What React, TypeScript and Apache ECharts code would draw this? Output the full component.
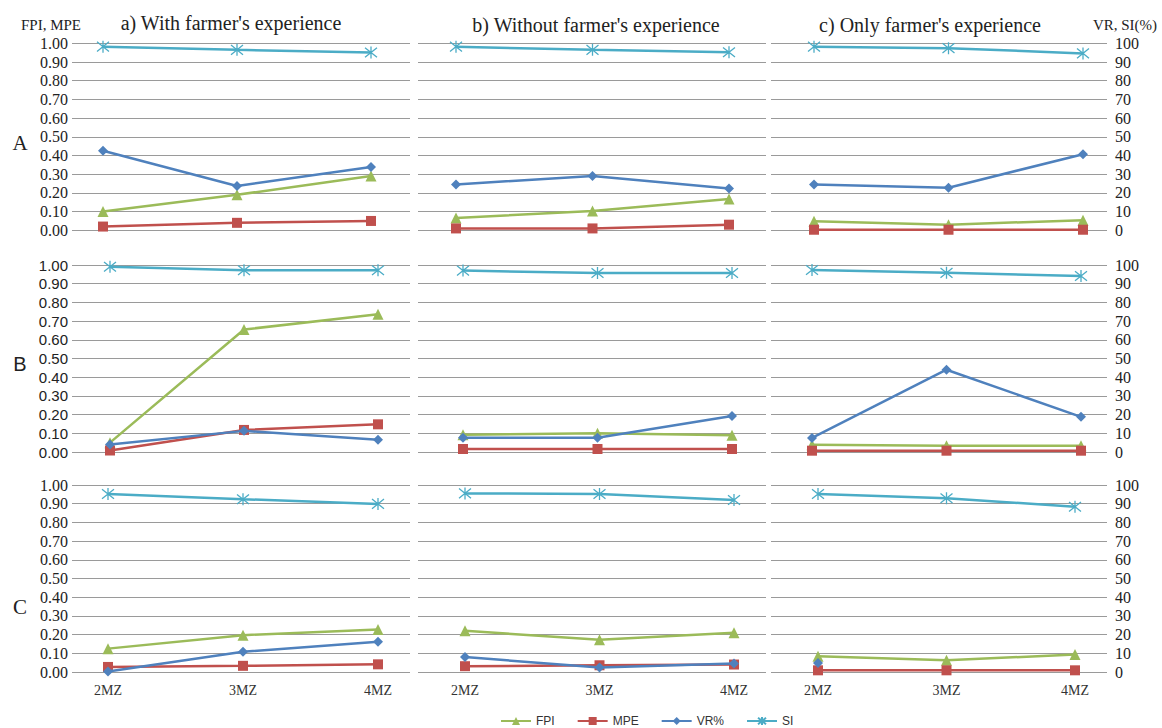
import React, { useEffect, useRef } from 'react';
import * as echarts from 'echarts';

const categories = ['2MZ', '3MZ', '4MZ'];
const seriesNames = ['FPI', 'MPE', 'VR%', 'SI'];
const panelTitles = ["a) With farmer's experience", "b) Without farmer's experience", "c) Only farmer's experience"];
const rowLabels = ['A', 'B', 'C'];

// Row A
const A_a_FPI = [0.10, 0.19, 0.29];
const A_a_MPE = [0.02, 0.04, 0.05];
const A_a_VR = [42.5, 23.7, 33.9];
const A_a_SI = [98.2, 96.5, 95.1];
const A_b_FPI = [0.066, 0.103, 0.168];
const A_b_MPE = [0.01, 0.01, 0.03];
const A_b_VR = [24.5, 29.1, 22.4];
const A_b_SI = [98.2, 96.5, 95.2];
const A_c_FPI = [0.048, 0.03, 0.054];
const A_c_MPE = [0.003, 0.003, 0.003];
const A_c_VR = [24.5, 22.8, 40.7];
const A_c_SI = [98.2, 97.4, 94.6];
// Row B
const B_a_FPI = [0.05, 0.655, 0.737];
const B_a_MPE = [0.008, 0.118, 0.148];
const B_a_VR = [4.0, 11.3, 6.5];
const B_a_SI = [99.1, 97.2, 97.2];
const B_b_FPI = [0.092, 0.10, 0.09];
const B_b_MPE = [0.016, 0.016, 0.016];
const B_b_VR = [7.6, 7.6, 19.2];
const B_b_SI = [97.0, 95.7, 95.7];
const B_c_FPI = [0.039, 0.034, 0.034];
const B_c_MPE = [0.007, 0.007, 0.007];
const B_c_VR = [7.5, 44.0, 18.8];
const B_c_SI = [97.3, 95.8, 94.1];
// Row C
const C_a_FPI = [0.125, 0.197, 0.227];
const C_a_MPE = [0.027, 0.033, 0.041];
const C_a_VR = [0.3, 10.8, 16.2];
const C_a_SI = [95.2, 92.4, 89.9];
const C_b_FPI = [0.22, 0.173, 0.21];
const C_b_MPE = [0.031, 0.036, 0.04];
const C_b_VR = [8.0, 2.4, 4.5];
const C_b_SI = [95.5, 95.2, 92.0];
const C_c_FPI = [0.084, 0.063, 0.093];
const C_c_MPE = [0.009, 0.009, 0.009];
const C_c_VR = [4.8, null, null];
const C_c_SI = [95.2, 92.9, 88.4];

const leftTicks = { min: 0, max: 1, interval: 0.1 };
const rightTicks = { min: 0, max: 100, interval: 10 };

const panels = [
  [[A_a_FPI, A_a_MPE, A_a_VR, A_a_SI], [A_b_FPI, A_b_MPE, A_b_VR, A_b_SI], [A_c_FPI, A_c_MPE, A_c_VR, A_c_SI]],
  [[B_a_FPI, B_a_MPE, B_a_VR, B_a_SI], [B_b_FPI, B_b_MPE, B_b_VR, B_b_SI], [B_c_FPI, B_c_MPE, B_c_VR, B_c_SI]],
  [[C_a_FPI, C_a_MPE, C_a_VR, C_a_SI], [C_b_FPI, C_b_MPE, C_b_VR, C_b_SI], [C_c_FPI, C_c_MPE, C_c_VR, C_c_SI]],
];

// layout (pixels)
const rowTops = [43.3, 265, 485];
const gridH = 187;
const cols = [
  { left: 72, width: 338 },
  { left: 418, width: 348 },
  { left: 771, width: 336 },
];
const pointPx = [
  [[103, 371], [456, 729], [814, 1083]],
  [[110, 378], [463, 732], [812, 1081]],
  [[108, 378], [465, 734], [818, 1075]],
];

const colors = ['#9bbb59', '#c0504d', '#4f81bd', '#4bacc6'];
const symbols = ['triangle', 'rect', 'diamond', 'path://M1,1L9,9M9,1L1,9M5,0L5,10'];
const symbolSizes = [11, 10, 10, 12];
const SERIF = 'Liberation Serif';
const SANS = 'Liberation Sans';

function buildOption() {
  const grid: any[] = [];
  const xAxis: any[] = [];
  const yAxis: any[] = [];
  const series: any[] = [];
  for (let r = 0; r < 3; r++) {
    for (let c = 0; c < 3; c++) {
      const k = r * 3 + c;
      const { left, width } = cols[c];
      grid.push({ left, top: rowTops[r], width, height: gridH, containLabel: false });
      const [p0, p2] = pointPx[r][c];
      const s = (p2 - p0) / 2;
      const min = -(p0 - left) / s;
      const max = 2 + (left + width - p2) / s;
      xAxis.push({
        type: 'value',
        gridIndex: k,
        min,
        max,
        axisLine: { show: false },
        axisTick: { show: false },
        splitLine: { show: false },
        axisLabel: r === 2
          ? {
              show: true,
              customValues: [0, 1, 2],
              formatter: (v: number) => categories[Math.round(v)] ?? '',
              fontFamily: SERIF,
              fontSize: 14,
              color: '#333',
              margin: 11,
            }
          : { show: false },
      });
      yAxis.push({
        type: 'value',
        gridIndex: k,
        position: 'left',
        ...leftTicks,
        axisLine: { show: false },
        axisTick: { show: false },
        splitLine: { show: true, lineStyle: { color: '#9a9a9a', width: 1 } },
        axisLabel: c === 0
          ? {
              show: true,
              formatter: (v: number) => v.toFixed(2),
              fontFamily: r === 1 ? SANS : SERIF,
              fontSize: r === 1 ? 15 : 16,
              color: '#222',
              margin: 4,
            }
          : { show: false },
      });
      yAxis.push({
        type: 'value',
        gridIndex: k,
        position: 'right',
        ...rightTicks,
        axisLine: { show: false },
        axisTick: { show: false },
        splitLine: { show: false },
        axisLabel: c === 2
          ? { show: true, fontFamily: SERIF, fontSize: 16, color: '#222', margin: 8 }
          : { show: false },
      });
      panels[r][c].forEach((vals: any[], si: number) => {
        const isAst = si === 3;
        series.push({
          type: 'line',
          name: seriesNames[si],
          xAxisIndex: k,
          yAxisIndex: si < 2 ? 2 * k : 2 * k + 1,
          data: vals.map((v, i) => (v == null ? [i, '-'] : [i, v])),
          symbol: symbols[si],
          symbolSize: symbolSizes[si],
          showSymbol: true,
          silent: true,
          lineStyle: { color: colors[si], width: 2.5 },
          itemStyle: isAst
            ? { color: colors[si], borderColor: colors[si], borderWidth: 1.3 }
            : { color: colors[si], borderWidth: 0 },
          emphasis: { disabled: true },
          z: 2 + si,
        });
      });
    }
  }

  const txt = (text: string, x: number, y: number, font: string, align = 'center') => ({
    type: 'text',
    x,
    y,
    silent: true,
    style: {
      text,
      font,
      fill: '#222',
      align,
      textAlign: align,
      verticalAlign: 'middle',
      textVerticalAlign: 'middle',
    },
  });

  const graphic: any[] = [
    txt(panelTitles[0], 231, 23, `20px ${SERIF}`),
    txt(panelTitles[1], 596, 25, `20px ${SERIF}`),
    txt(panelTitles[2], 930, 25, `20px ${SERIF}`),
    txt('FPI, MPE', 51, 25, `15px ${SERIF}`),
    txt('VR, SI(%)', 1125, 25, `15px ${SERIF}`),
    txt(rowLabels[0], 20, 143, `21px ${SERIF}`),
    txt(rowLabels[1], 20, 364, `20px ${SANS}`),
    txt(rowLabels[2], 20, 607, `21px ${SERIF}`),
  ];

  return {
    animation: false,
    backgroundColor: '#ffffff',
    textStyle: { fontFamily: SERIF },
    grid,
    xAxis,
    yAxis,
    series,
    graphic,
    legend: {
      data: seriesNames,
      left: 495,
      top: 710,
      itemWidth: 30,
      itemHeight: 10,
      itemGap: 22,
      selectedMode: false,
      textStyle: { fontFamily: SANS, fontSize: 12, color: '#333' },
    },
  };
}

export default function App() {
  const ref = useRef<HTMLDivElement>(null);
  useEffect(() => {
    if (!ref.current) return;
    const chart = echarts.init(ref.current, undefined, { renderer: 'svg' });
    chart.setOption(buildOption() as any);
    return () => chart.dispose();
  }, []);
  return (
    <div
      ref={ref}
      style={{ position: 'fixed', left: 0, top: 0, width: 1162, height: 728, background: '#fff' }}
    />
  );
}
